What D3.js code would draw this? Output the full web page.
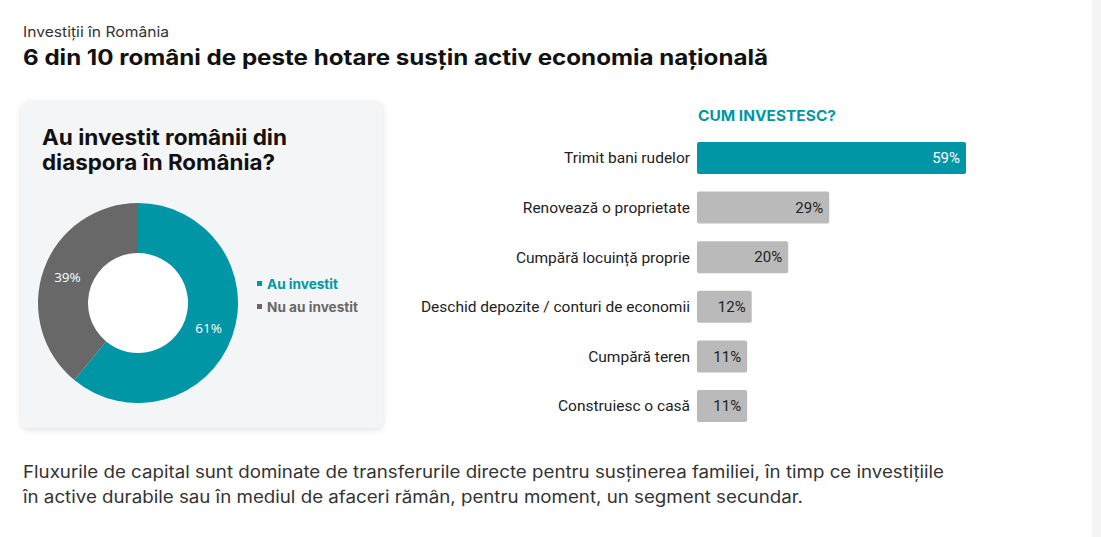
<!DOCTYPE html>
<html>
<head>
<meta charset="utf-8">
<script src="https://cdn.jsdelivr.net/npm/d3@7"></script>
<style>
  html, body { margin: 0; padding: 0; background: #fff; overflow: hidden; }
  svg { display: block; }
</style>
</head>
<body>
<div id="chart"></div>
<script>
// diaspora investment – donut + bar chart

const pieLabels = ["Au investit", "Nu au investit"];
const pieValues = [61, 39];
const pieColors = ["#0096a6", "#686868"];

const categories = [
  "Trimit bani rudelor",
  "Renovează o proprietate",
  "Cumpără locuință proprie",
  "Deschid depozite / conturi de economii",
  "Cumpără teren",
  "Construiesc o casă"
];
const shares = [59, 29, 20, 12, 11, 11];

const W = 1101, H = 537;
const teal = "#0096a6";
const sans = "Inter, 'Noto Sans', sans-serif";

const svg = d3.select("#chart").append("svg")
  .attr("width", W)
  .attr("height", H);

// soft shadow for the card
const defs = svg.append("defs");
const f = defs.append("filter").attr("id", "shadow")
  .attr("x", "-10%").attr("y", "-10%").attr("width", "120%").attr("height", "125%");
f.append("feDropShadow")
  .attr("dx", 0).attr("dy", 2).attr("stdDeviation", 3)
  .attr("flood-color", "#000").attr("flood-opacity", 0.12);

// scrollbar strip on the right edge
svg.append("rect")
  .attr("x", 1092).attr("y", 0).attr("width", 9).attr("height", H)
  .attr("fill", "#f4f4f4");

// text helper: Montserrat is not installed, so stretch Inter to its width
function label(x, y, str, size, weight, fill, len) {
  const t = svg.append("text")
    .attr("x", x).attr("y", y)
    .attr("font-family", sans)
    .attr("font-size", size + "px")
    .attr("font-weight", weight)
    .attr("fill", fill)
    .text(str);
  if (len) t.attr("textLength", len).attr("lengthAdjust", "spacingAndGlyphs");
  return t;
}

// headings
label(23, 37, "Investiții în România", 14.5, 400, "#333", 146);
label(23, 65, "6 din 10 români de peste hotare susțin activ economia națională", 21, 700, "#111", 745);

/* ---- left card with donut ---- */
svg.append("rect")
  .attr("x", 21).attr("y", 101)
  .attr("width", 362).attr("height", 327)
  .attr("rx", 8)
  .attr("fill", "#f4f5f7")
  .attr("filter", "url(#shadow)");

label(42, 145, "Au investit românii din", 21, 700, "#111", 245);
label(42, 170, "diaspora în România?", 21, 700, "#111", 233);

const cx = 138, cy = 303, rOut = 100, rIn = 50;

const pie = d3.pie().sort(null).value(d => d)(pieValues);
const arc = d3.arc().innerRadius(rIn).outerRadius(rOut);
const labelArc = d3.arc().innerRadius(75).outerRadius(75);

const donut = svg.append("g").attr("transform", `translate(${cx},${cy})`);

donut.append("circle").attr("r", rIn).attr("fill", "#fff");

donut.selectAll("path")
  .data(pie)
  .enter().append("path")
    .attr("d", arc)
    .attr("fill", (d, i) => pieColors[i]);

donut.selectAll("text")
  .data(pie)
  .enter().append("text")
    .attr("transform", d => `translate(${labelArc.centroid(d)})`)
    .attr("text-anchor", "middle")
    .attr("dy", "0.35em")
    .attr("font-family", "'Open Sans', sans-serif")
    .attr("font-size", "13.5px")
    .attr("fill", "#fff")
    .text((d, i) => pieValues[i] + "%");

// legend
const legendLen = [71, 91];
pieLabels.forEach((lab, i) => {
  const y = 284 + i * 23;
  svg.append("rect")
    .attr("x", 257).attr("y", y - 3).attr("width", 5).attr("height", 5)
    .attr("fill", pieColors[i]);
  label(267, y + 5, lab, 13, 700, pieColors[i], legendLen[i]);
});

/* ---- right bar chart ---- */
label(698, 121, "CUM INVESTESC?", 14.5, 700, teal, 138);

const x = d3.scaleLinear().domain([0, 59]).range([697, 966]);
const y = d3.scaleBand().domain(categories).range([142, 422]).paddingInner(0.355);

const rows = svg.selectAll("g.row")
  .data(categories)
  .enter().append("g")
    .attr("class", "row");

rows.append("rect")
  .attr("x", x(0))
  .attr("y", d => y(d))
  .attr("width", (d, i) => x(shares[i]) - x(0))
  .attr("height", y.bandwidth())
  .attr("rx", 2)
  .attr("fill", (d, i) => i === 0 ? teal : "#bababa");

rows.append("text")
  .attr("x", (d, i) => x(shares[i]) - 6)
  .attr("y", d => y(d) + y.bandwidth() / 2)
  .attr("dy", "0.35em")
  .attr("text-anchor", "end")
  .attr("font-family", "Roboto, sans-serif")
  .attr("font-size", "15px")
  .attr("fill", (d, i) => i === 0 ? "#fff" : "#222")
  .text((d, i) => shares[i] + "%");

rows.append("text")
  .attr("x", 690)
  .attr("y", d => y(d) + y.bandwidth() / 2)
  .attr("dy", "0.35em")
  .attr("text-anchor", "end")
  .attr("font-family", "Roboto, sans-serif")
  .attr("font-size", "15.5px")
  .attr("fill", "#222")
  .text(d => d);

/* ---- footnote ---- */
label(23, 478, "Fluxurile de capital sunt dominate de transferurile directe pentru susținerea familiei, în timp ce investițiile", 17, 400, "#333", 921);
label(23, 503, "în active durabile sau în mediul de afaceri rămân, pentru moment, un segment secundar.", 17, 400, "#333", 780);
</script>
</body>
</html>
